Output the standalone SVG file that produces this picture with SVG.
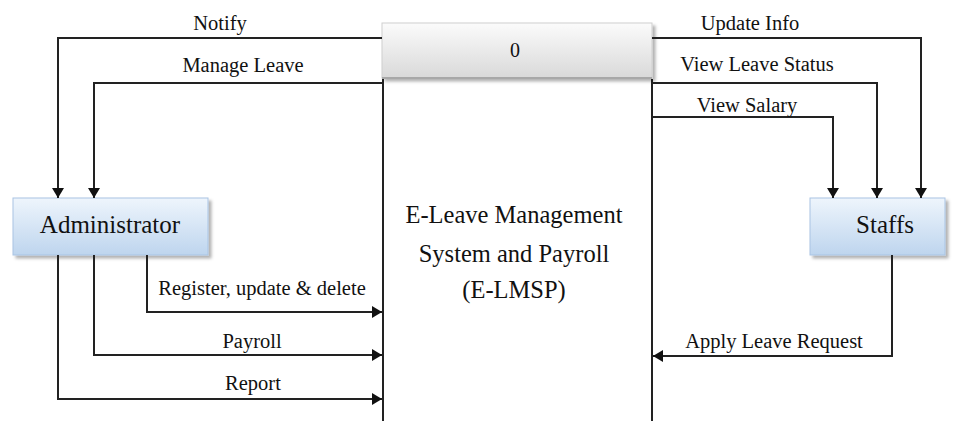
<svg xmlns="http://www.w3.org/2000/svg" width="955" height="421" viewBox="0 0 955 421">
  <defs>
    <linearGradient id="entityFill" x1="0" y1="0" x2="0" y2="1">
      <stop offset="0" stop-color="#eef5fc"/>
      <stop offset="1" stop-color="#bed5ee"/>
    </linearGradient>
    <linearGradient id="headFill" x1="0" y1="0" x2="0" y2="1">
      <stop offset="0" stop-color="#fbfbfb"/>
      <stop offset="1" stop-color="#d9d9d9"/>
    </linearGradient>
    <filter id="shadow" x="-10%" y="-10%" width="130%" height="140%">
      <feDropShadow dx="3" dy="3" stdDeviation="1.5" flood-color="#000" flood-opacity="0.3"/>
    </filter>
    <marker id="arrow" viewBox="0 0 10 12" refX="10" refY="6" markerWidth="10" markerHeight="12" markerUnits="userSpaceOnUse" orient="auto">
      <path d="M0,0 L10,6 L0,12 Z" fill="#111"/>
    </marker>
  </defs>
  <style>
    .flow { fill: none; stroke: #222; stroke-width: 2; }
    .lbl { font-family: "Liberation Serif", serif; font-size: 20.5px; fill: #111; text-anchor: middle; }
    .ent { font-family: "Liberation Serif", serif; font-size: 25px; fill: #111; text-anchor: middle; }
    .proc { font-family: "Liberation Serif", serif; font-size: 24.5px; fill: #111; text-anchor: middle; }
  </style>
  <rect width="955" height="421" fill="#fff"/>

  <!-- process 0 -->
  <g id="process-0">
    <line x1="383" y1="79" x2="383" y2="421" stroke="#222" stroke-width="2"/>
    <line x1="652" y1="79" x2="652" y2="421" stroke="#222" stroke-width="2"/>
    <rect x="382" y="23" width="270" height="55" fill="url(#headFill)" stroke="#cfcfcf" stroke-width="1" filter="url(#shadow)"/>
    <line x1="382" y1="78" x2="652" y2="78" stroke="#a8a8a8" stroke-width="2"/>
    <text class="lbl" x="515" y="57" style="font-size:20px">0</text>
    <text class="proc" x="514" y="223">E-Leave Management</text>
    <text class="proc" x="514" y="262">System and Payroll</text>
    <text class="proc" x="514" y="298">(E-LMSP)</text>
  </g>

  <!-- external entities -->
  <g id="administrator">
    <rect x="13" y="198" width="195" height="57" fill="url(#entityFill)" stroke="#a9c4e4" stroke-width="1" filter="url(#shadow)"/>
    <text class="ent" x="110" y="233">Administrator</text>
  </g>
  <g id="staffs">
    <rect x="810" y="198" width="135" height="57" fill="url(#entityFill)" stroke="#a9c4e4" stroke-width="1" filter="url(#shadow)"/>
    <text class="ent" x="885" y="233">Staffs</text>
  </g>

  <!-- data flows -->
  <g id="connectors">
    <polyline class="flow" points="382,38 58,38 58,198" marker-end="url(#arrow)"/>
    <polyline class="flow" points="382,83 94,83 94,198" marker-end="url(#arrow)"/>
    <polyline class="flow" points="652,38 921,38 921,198" marker-end="url(#arrow)"/>
    <polyline class="flow" points="652,83 877,83 877,198" marker-end="url(#arrow)"/>
    <polyline class="flow" points="652,117 833,117 833,198" marker-end="url(#arrow)"/>
    <polyline class="flow" points="147,255 147,312 382,312" marker-end="url(#arrow)"/>
    <polyline class="flow" points="94,255 94,355 382,355" marker-end="url(#arrow)"/>
    <polyline class="flow" points="58,255 58,399 382,399" marker-end="url(#arrow)"/>
    <polyline class="flow" points="892,255 892,356 653,356" marker-end="url(#arrow)"/>

    <text class="lbl" x="220" y="30">Notify</text>
    <text class="lbl" x="243" y="72">Manage Leave</text>
    <text class="lbl" x="750" y="30">Update Info</text>
    <text class="lbl" x="757" y="71">View Leave Status</text>
    <text class="lbl" x="747" y="112">View Salary</text>
    <text class="lbl" x="262" y="295">Register, update &amp; delete</text>
    <text class="lbl" x="252" y="348">Payroll</text>
    <text class="lbl" x="253" y="390">Report</text>
    <text class="lbl" x="774" y="348">Apply Leave Request</text>
  </g>
</svg>
